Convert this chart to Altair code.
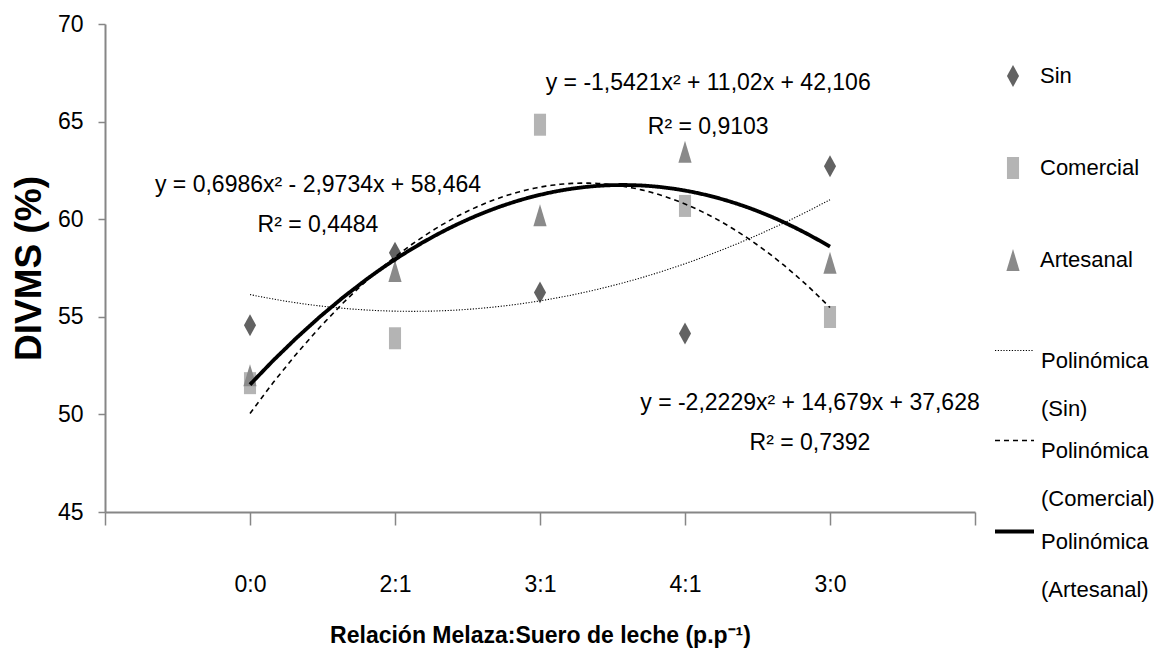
import altair as alt
import pandas as pd

# ---- data ----
categories = ["0:0", "2:1", "3:1", "4:1", "3:0"]
positions = [1, 2, 3, 4, 5]
series_names = ["Sin", "Comercial", "Artesanal"]
sin_values = [54.57, 58.28, 56.25, 54.15, 62.71]
comercial_values = [51.6, 53.9, 64.84, 60.68, 54.99]
artesanal_values = [52.0, 57.34, 60.2, 63.46, 57.77]

trend_names = ["Polinómica (Sin)", "Polinómica (Comercial)", "Polinómica (Artesanal)"]

eq_lines = [
    "y = 0,6986x² - 2,9734x + 58,464", "R² = 0,4484",
    "y = -1,5421x² + 11,02x + 42,106", "R² = 0,9103",
    "y = -2,2229x² + 14,679x + 37,628", "R² = 0,7392",
]
eq_x = [1.469, 1.469, 4.16, 4.16, 4.862, 4.862]
eq_y = [61.75, 59.70, 66.98, 64.72, 50.58, 48.53]

# ---- tables ----
rows = []
for name, vals in zip(series_names, [sin_values, comercial_values, artesanal_values]):
    for p, v in zip(positions, vals):
        rows.append({"serie": name, "x": p, "y": v})
df = pd.DataFrame(rows)
ann = pd.DataFrame({"text": eq_lines, "x": eq_x, "y": eq_y})

FONT = "Liberation Sans, Arial, sans-serif"

label_expr = " : ".join(
    f"datum.value == {p} ? '{c}'" for p, c in zip(positions, categories)
) + " : ''"

x_enc = alt.X(
    "x:Q",
    scale=alt.Scale(domain=[0, 6], nice=False, zero=False),
    axis=alt.Axis(
        values=[0, 1, 2, 3, 4, 5, 6],
        labelExpr=label_expr,
        tickSize=13,
        labelPadding=59,
        labelBaseline="middle",
        labelFlush=False,
        labelOverlap=False,
        title="Relación Melaza:Suero de leche (p.p⁻¹)",
        titleFont=FONT,
        titleFontSize=23,
        titleFontWeight="bold",
        titleX=435,
        titleY=123,
        titleBaseline="middle",
        titleAlign="center",
    ),
)
y_enc = alt.Y(
    "y:Q",
    scale=alt.Scale(domain=[45, 70], nice=False, zero=False),
    axis=alt.Axis(
        values=[45, 50, 55, 60, 65, 70],
        tickSize=7,
        labelPadding=15,
        title="DIVMS (%)",
        titleFont=FONT,
        titleFontSize=37,
        titleFontWeight="bold",
        titleAngle=270,
        titleX=-76,
        titleY=244,
        titleAlign="center",
        titleBaseline="middle",
    ),
)

diamond = "M0,-1L0.55,0L0,1L-0.55,0Z"
square = "M-0.55,-1L0.55,-1L0.55,1L-0.55,1Z"
triangle = "M0,-1L0.6,1L-0.6,1Z"

point_legend = alt.Legend(
    title=None,
    orient="none",
    legendX=897,
    legendY=41,
    symbolSize=484,
    symbolStrokeWidth=0,
    labelOffset=16,
    rowPadding=70,
)

points = alt.Chart(df).mark_point(filled=True, size=484, opacity=1, strokeWidth=0).encode(
    x=x_enc,
    y=y_enc,
    shape=alt.Shape(
        "serie:N",
        scale=alt.Scale(domain=series_names, range=[diamond, square, triangle]),
        legend=point_legend,
    ),
    color=alt.Color(
        "serie:N",
        scale=alt.Scale(domain=series_names, range=["#626262", "#b4b4b4", "#8a8a8a"]),
        legend=point_legend,
    ),
)

line_legend = alt.Legend(
    title=None,
    orient="none",
    legendX=888,
    legendY=306,
    symbolType="stroke",
    symbolSize=1521,
    symbolStrokeColor="black",
    labelOffset=5,
    labelExpr="split(datum.label, ' ')",
    labelBaseline="top",
    rowPadding=-7,
)

lines = (
    alt.Chart(df)
    .transform_regression("x", "y", groupby=["serie"], method="poly", order=2)
    .transform_calculate(trend="'Polinómica (' + datum.serie + ')'")
    .mark_line(color="black")
    .encode(
        x=x_enc,
        y=y_enc,
        strokeDash=alt.StrokeDash(
            "trend:N",
            scale=alt.Scale(type="ordinal", domain=trend_names, range=[[1.2, 1.6], [5, 4], [1, 0]]),
            legend=line_legend,
        ),
        strokeWidth=alt.StrokeWidth(
            "trend:N",
            scale=alt.Scale(type="ordinal", domain=trend_names, range=[1.1, 1.6, 3.8]),
            legend=line_legend,
        ),
    )
)

texts = alt.Chart(ann).mark_text(
    font=FONT, fontSize=23, align="center", baseline="middle", color="black"
).encode(
    x=alt.X("x:Q"),
    y=alt.Y("y:Q"),
    text="text:N",
)

chart = (
    alt.layer(points, lines, texts)
    .properties(
        width=870,
        height=488,
        autosize=alt.AutoSizeParams(type="none"),
        padding={"left": 97, "top": 16, "right": 183, "bottom": 150},
    )
    .configure(style={"guide-label": {"lineHeight": 48}})
    .configure_view(stroke=None)
    .configure_axis(
        labelFont=FONT,
        labelFontSize=23,
        labelColor="black",
        titleColor="black",
        domainColor="#868686",
        domainWidth=2,
        tickColor="#868686",
        tickWidth=1.5,
        grid=False,
    )
    .configure_legend(
        labelFont=FONT,
        labelFontSize=22,
        labelColor="black",
        labelLimit=400,
    )
)

chart.save("out.html", embed_options={"renderer": "svg", "actions": False})
